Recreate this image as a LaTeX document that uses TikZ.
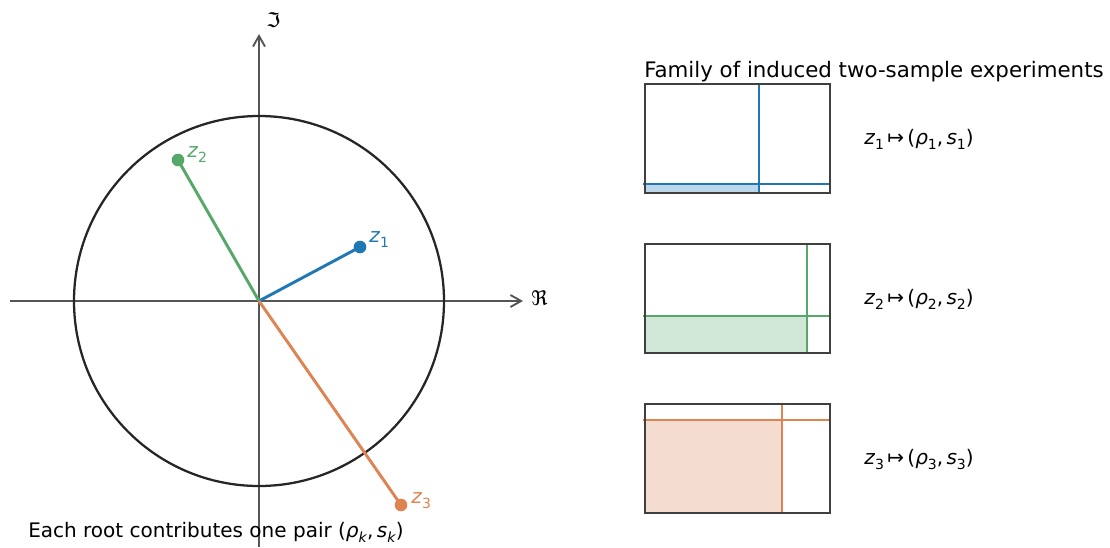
\documentclass[tikz,border=0pt]{standalone}
\usepackage{fontspec}
\setmainfont{DejaVu Sans}
\usepackage{graphicx}
\usetikzlibrary{arrows.meta}
\definecolor{cblue}{HTML}{1F77B4}
\definecolor{cgreen}{HTML}{55A868}
\definecolor{corange}{HTML}{DD8452}
\definecolor{fblue}{HTML}{BCD6EA}
\definecolor{fgreen}{HTML}{D0E6D6}
\definecolor{forange}{HTML}{F5DCD0}
\definecolor{axisgray}{HTML}{555555}
\definecolor{boxgray}{HTML}{404040}
\definecolor{circblack}{HTML}{262626}
\newcommand\ssub[1]{\raisebox{-0.28em}{\fontsize{10.5}{12}\selectfont #1}}
\newcommand\mz[1]{\textit{z}\ssub{#1}}
\begin{document}
\begin{tikzpicture}[x=0.75pt,y=-0.75pt,
  axisline/.style={draw=axisgray,line width=1.4pt},
  axisarrow/.style={axisline,-{Straight Barb[length=8pt,width=9pt,line width=1.4pt]}},
  rootline/.style={line width=2.2pt},
  rootdot/.style={circle,inner sep=0pt,minimum size=9.5pt},
  lbl/.style={font=\fontsize{15}{18}\selectfont,inner sep=0pt},
  expbox/.style={draw=boxgray,line width=1.6pt},
  splitline/.style={line width=2.2pt}]
\useasboundingbox (0,0) rectangle (1110,547);
% axes
\coordinate (O) at (259,301);
\coordinate (xl) at (10,301);
\coordinate (xr) at (523,301);
\coordinate (yb) at (259,547);
\coordinate (yt) at (259,34);
\draw[axisarrow] (xl) -- (xr);
\draw[axisarrow] (yb) -- (yt);
\node[lbl,anchor=base west] (re) at (531,305) {ℜ};
\node[lbl,anchor=base west] (im) at (266,27) {ℑ};
% unit circle
\draw[circblack,line width=1.7pt] (O) circle[radius=185];
% roots
\node[rootdot,fill=cblue] (z1) at (360,247) {};
\node[rootdot,fill=cgreen] (z2) at (178,160) {};
\node[rootdot,fill=corange] (z3) at (401,505) {};
\draw[rootline,cblue] (O) -- (z1.center);
\draw[rootline,cgreen] (O) -- (z2.center);
\draw[rootline,corange] (O) -- (z3.center);
\node[lbl,anchor=base west,text=cblue] (l1) at (369,242) {\mz{1}};
\node[lbl,anchor=base west,text=cgreen] (l2) at (187,157) {\mz{2}};
\node[lbl,anchor=base west,text=corange] (l3) at (411,503) {\mz{3}};
\node[lbl,anchor=base west] (caption) at (28,537) {Each root contributes one pair (\textit{ρ}\ssub{\textit{k}},\,\textit{s}\ssub{\textit{k}})};
% right panel
\node[font=\fontsize{16}{19}\selectfont,inner sep=0pt,anchor=base west] (title) at (644,77) {Family of induced two-sample experiments};
% box 1
\fill[fblue] (645,184) rectangle (759,193);
\draw[splitline,cblue] (759,84) -- (759,193);
\draw[splitline,cblue] (643,184) -- (830,184);
\node[expbox,minimum width=138.75pt,minimum height=81.75pt,inner sep=0pt] (b1) at (737.5,138.5) {};
% box 2
\fill[fgreen] (645,316) rectangle (807,353);
\draw[splitline,cgreen] (807,243) -- (807,353);
\draw[splitline,cgreen] (643,316) -- (830,316);
\node[expbox,minimum width=138.75pt,minimum height=81.75pt,inner sep=0pt] (b2) at (737.5,298.5) {};
% box 3
\fill[forange] (645,420) rectangle (782,513);
\draw[splitline,corange] (782,403) -- (782,513);
\draw[splitline,corange] (643,420) -- (830,420);
\node[expbox,minimum width=138.75pt,minimum height=81.75pt,inner sep=0pt] (b3) at (737.5,458.5) {};
% mapping labels
\node[lbl,anchor=base west] (m1) at (864,144) {\mz{1}\,↦\,(\textit{ρ}\ssub{1},\,\textit{s}\ssub{1})};
\node[lbl,anchor=base west] (m2) at (864,304) {\mz{2}\,↦\,(\textit{ρ}\ssub{2},\,\textit{s}\ssub{2})};
\node[lbl,anchor=base west] (m3) at (864,464) {\mz{3}\,↦\,(\textit{ρ}\ssub{3},\,\textit{s}\ssub{3})};
\end{tikzpicture}
\end{document}
